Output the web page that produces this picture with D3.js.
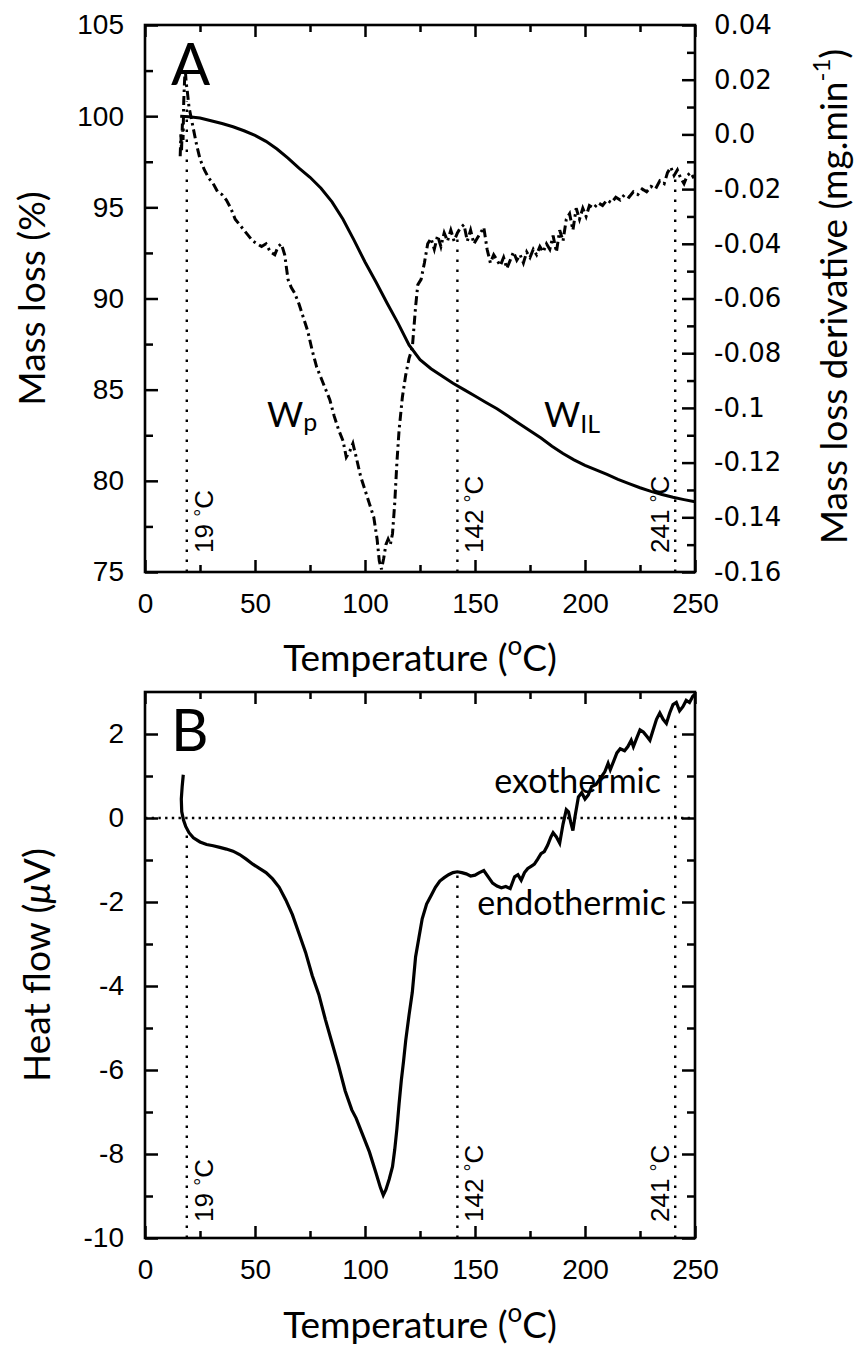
<!DOCTYPE html>
<html>
<head>
<meta charset="utf-8">
<script src="https://cdn.jsdelivr.net/npm/d3@7"></script>
<style>
  body { margin: 0; background: #fff; }
  svg { display: block; }
</style>
</head>
<body>
<svg id="chart" width="860" height="1348"></svg>
<script>
// ---------------- DATA ----------------
const xTicksMajor = [0, 50, 100, 150, 200, 250];
const xTicksMinor = [25, 75, 125, 175, 225];
const massTicks = [75, 80, 85, 90, 95, 100, 105];
const massTicksMinor = [77.5, 82.5, 87.5, 92.5, 97.5, 102.5];
const derivTicks = [-0.16, -0.14, -0.12, -0.1, -0.08, -0.06, -0.04, -0.02, 0, 0.02, 0.04];
const derivTickLabels = ["-0.16", "-0.14", "-0.12", "-0.1", "-0.08", "-0.06", "-0.04", "-0.02", "0.0", "0.02", "0.04"];
const derivTicksMinor = [-0.15, -0.13, -0.11, -0.09, -0.07, -0.05, -0.03, -0.01, 0.01, 0.03];
const heatTicks = [-10, -8, -6, -4, -2, 0, 2];
const heatTickLabels = ["-10", "-8", "-6", "-4", "-2", "0", "2"];
const heatTicksMinor = [-9, -7, -5, -3, -1, 1];

const markerTemps = [19, 142, 241];
const markerLabels = ["19", "142", "241"];
const markerDerivEnd = [0.012, -0.036, -0.015];
const markerHeatEnd = [-0.4, -1.3, 2.3];

// mass loss (%) vs temperature (°C)
const massT = [16, 20, 25, 30, 35, 40, 45, 50, 55, 60, 65, 70, 75, 80, 85, 90, 95, 100, 105, 110, 115, 120, 125, 130, 135, 140, 145, 150, 155, 160, 165, 170, 175, 180, 185, 190, 195, 200, 205, 210, 215, 220, 225, 230, 235, 240, 245, 250];
const massV = [100.0, 99.97, 99.9, 99.75, 99.6, 99.42, 99.2, 98.95, 98.62, 98.2, 97.7, 97.15, 96.65, 96.05, 95.3, 94.35, 93.2, 92.0, 90.9, 89.75, 88.65, 87.45, 86.65, 86.15, 85.75, 85.35, 85.0, 84.65, 84.3, 83.95, 83.55, 83.15, 82.75, 82.35, 81.9, 81.5, 81.15, 80.85, 80.6, 80.35, 80.08, 79.85, 79.62, 79.42, 79.25, 79.1, 78.97, 78.85];

// mass loss derivative (mg/min) vs temperature
const derivT = [16.0, 16.3, 16.6, 17.0, 17.3, 17.6, 18.0, 18.3, 18.7, 19.2, 20.0, 21.0, 22.0, 23.5, 25.0, 27.0, 29.0, 31.0, 33.0, 35.0, 37.0, 39.0, 41.0, 43.0, 45.0, 47.0, 49.0, 51.0, 53.0, 55.0, 57.0, 59.0, 60.5, 62.0, 63.5, 65.0, 66.5, 68.0, 70.0, 72.0, 74.0, 76.0, 78.0, 80.0, 82.0, 84.0, 86.0, 88.0, 90.0, 91.5, 93.0, 94.5, 96.0, 98.0, 100.0, 102.0, 104.0, 105.5, 106.5, 107.5, 108.5, 109.5, 110.5, 111.5, 112.5, 113.5, 114.5, 115.5, 117.0, 118.5, 120.0, 121.5, 123.0, 124.0, 125.5, 127.0, 128.5, 130.0, 131.5, 133.0, 134.5, 136.0, 137.5, 139.0, 140.5, 142.0, 143.5, 145.0, 146.5, 148.0, 149.5, 151.0, 152.5, 154.0, 155.5, 157.0, 158.5, 160.0, 161.5, 163.0, 164.5, 166.0, 167.5, 169.0, 170.5, 172.0, 173.5, 175.0, 176.5, 178.0, 179.5, 181.0, 182.5, 184.0, 185.5, 187.0, 188.5, 190.0, 191.5, 193.0, 194.5, 196.0, 197.5, 199.0, 200.5, 202.0, 204.0, 206.0, 208.0, 210.0, 212.0, 214.0, 216.0, 218.0, 220.0, 222.0, 224.0, 226.0, 228.0, 230.0, 232.0, 234.0, 236.0, 237.5, 239.0, 240.5, 242.0, 243.5, 245.0, 246.5, 248.0, 249.5];
const derivV = [-0.008, 0.000, -0.006, 0.004, -0.002, 0.012, 0.020, 0.024, 0.019, 0.016, 0.010, 0.006, 0.002, -0.004, -0.009, -0.013, -0.016, -0.018, -0.021, -0.022, -0.024, -0.027, -0.031, -0.033, -0.035, -0.037, -0.039, -0.040, -0.041, -0.040, -0.043, -0.044, -0.041, -0.040, -0.044, -0.053, -0.056, -0.058, -0.062, -0.067, -0.072, -0.079, -0.085, -0.089, -0.093, -0.097, -0.103, -0.108, -0.112, -0.118, -0.116, -0.113, -0.118, -0.125, -0.130, -0.135, -0.140, -0.148, -0.156, -0.159, -0.155, -0.150, -0.148, -0.150, -0.146, -0.135, -0.120, -0.108, -0.096, -0.088, -0.082, -0.078, -0.063, -0.055, -0.053, -0.047, -0.040, -0.038, -0.042, -0.037, -0.041, -0.036, -0.039, -0.035, -0.039, -0.036, -0.034, -0.033, -0.039, -0.035, -0.040, -0.038, -0.036, -0.034, -0.042, -0.047, -0.044, -0.046, -0.048, -0.045, -0.049, -0.046, -0.043, -0.046, -0.044, -0.047, -0.043, -0.045, -0.042, -0.044, -0.041, -0.043, -0.040, -0.042, -0.037, -0.043, -0.035, -0.039, -0.031, -0.029, -0.035, -0.027, -0.031, -0.027, -0.030, -0.026, -0.027, -0.025, -0.026, -0.024, -0.025, -0.023, -0.024, -0.022, -0.023, -0.021, -0.022, -0.020, -0.021, -0.019, -0.020, -0.017, -0.018, -0.014, -0.012, -0.015, -0.013, -0.016, -0.018, -0.015, -0.014, -0.016];

// heat flow (µV) vs temperature
const heatT = [17.4, 16.9, 16.5, 16.7, 17.5, 18.5, 20, 22, 25, 28, 31, 34, 37, 40, 43, 46, 49, 52, 55, 58, 61, 64, 67, 70, 73, 76, 79, 82, 85, 88, 91, 94, 96, 99, 102, 105, 107, 108.3, 109.5, 111, 112.5, 113.5, 114.5, 115.5, 116.5, 117.5, 118.5, 120, 121.5, 123, 124.5, 126, 128, 130, 132, 134, 136, 138, 140, 142, 144, 146, 148, 150, 152, 154, 156, 158, 160, 162, 164, 166, 168, 169.5, 171, 172.5, 174, 175.5, 177, 178.5, 180, 181.5, 183, 184.5, 185.5, 187, 188.5, 190, 191.5, 192.5, 193.5, 194.5, 195.5, 197, 198.5, 200, 201.5, 203, 205, 207, 209, 210.5, 211.5, 213, 214.5, 216, 218, 219.5, 221, 222, 223.5, 225, 226.5, 228, 229.5, 231, 232.5, 234, 235.5, 237, 238.5, 240, 241.5, 243, 244.5, 246, 247.5, 249, 250];
const heatV = [1.03, 0.75, 0.45, 0.15, -0.05, -0.2, -0.35, -0.47, -0.57, -0.63, -0.66, -0.7, -0.74, -0.79, -0.87, -0.98, -1.1, -1.2, -1.3, -1.45, -1.65, -1.95, -2.3, -2.75, -3.2, -3.75, -4.2, -4.8, -5.35, -5.9, -6.5, -6.95, -7.15, -7.55, -7.95, -8.45, -8.8, -8.98, -8.85, -8.6, -8.3, -7.9, -7.4, -6.8, -6.25, -5.8, -5.3, -4.7, -4.15, -3.3, -2.85, -2.4, -2.05, -1.85, -1.65, -1.5, -1.42, -1.35, -1.3, -1.28, -1.3, -1.33, -1.38, -1.36, -1.3, -1.25, -1.4, -1.55, -1.62, -1.66, -1.63, -1.68, -1.4, -1.35, -1.48, -1.3, -1.2, -1.15, -1.1, -0.98, -0.85, -0.8, -0.65, -0.45, -0.35, -0.45, -0.6, -0.15, 0.2, 0.15, -0.1, -0.3, 0.05, 0.5, 0.6, 0.45, 0.55, 0.75, 0.8, 0.95, 1.1, 1.3, 1.15, 1.35, 1.55, 1.65, 1.6, 1.7, 1.85, 1.7, 1.9, 2.1, 2.05, 1.95, 1.85, 2.1, 2.35, 2.5, 2.35, 2.25, 2.5, 2.7, 2.75, 2.55, 2.65, 2.8, 2.75, 2.9, 2.95];

// ---------------- LAYOUT ----------------
const svg = d3.select("#chart");
const L = 145, R = 695;
const topT = 25, topB = 572;
const botT = 692, botB = 1238;
const tickFont = "'Liberation Sans', Arial, sans-serif";
const titleFont = "Lato, 'Open Sans', sans-serif";

const x1 = d3.scaleLinear().domain([0, 250]).range([L, R]);
const yMass = d3.scaleLinear().domain([75, 105]).range([topB, topT]);
const yDeriv = d3.scaleLinear().domain([-0.16, 0.04]).range([topB, topT]);
const x2 = d3.scaleLinear().domain([0, 250]).range([L, R]);
const yHeat = d3.scaleLinear().domain([-10, 3]).range([botB, botT]);

function styleAxis(g, fontSize, family) {
  g.select(".domain").remove();
  g.selectAll(".tick line").attr("stroke", "#000").attr("stroke-width", 2.5);
  g.selectAll(".tick text").attr("fill", "#000").style("font-size", fontSize + "px").style("font-family", family);
}

function drawAxes(xs, ys, top, bottom, leftMaj, leftMin, leftFmt, rightAxis) {
  let g = svg.append("g").attr("transform", `translate(0,${bottom})`)
    .call(d3.axisBottom(xs).tickValues(xTicksMajor).tickSize(-12).tickSizeOuter(0).tickPadding(21).tickFormat(d3.format("d")));
  styleAxis(g, 28, tickFont);
  g = svg.append("g").attr("transform", `translate(0,${bottom})`)
    .call(d3.axisBottom(xs).tickValues(xTicksMinor).tickSize(-7).tickSizeOuter(0).tickFormat(""));
  styleAxis(g, 28, tickFont);
  g = svg.append("g").attr("transform", `translate(0,${top})`)
    .call(d3.axisTop(xs).tickValues(xTicksMajor).tickSize(-12).tickSizeOuter(0).tickFormat(""));
  styleAxis(g, 28, tickFont);
  g = svg.append("g").attr("transform", `translate(0,${top})`)
    .call(d3.axisTop(xs).tickValues(xTicksMinor).tickSize(-7).tickSizeOuter(0).tickFormat(""));
  styleAxis(g, 28, tickFont);
  g = svg.append("g").attr("transform", `translate(${L},0)`)
    .call(d3.axisLeft(ys).tickValues(leftMaj).tickSize(-13).tickSizeOuter(0).tickPadding(21).tickFormat(leftFmt));
  styleAxis(g, 28, tickFont);
  g = svg.append("g").attr("transform", `translate(${L},0)`)
    .call(d3.axisLeft(ys).tickValues(leftMin).tickSize(-8).tickSizeOuter(0).tickFormat(""));
  styleAxis(g, 28, tickFont);
  rightAxis();
  svg.append("rect").attr("x", L).attr("y", top).attr("width", R - L).attr("height", bottom - top)
    .attr("fill", "none").attr("stroke", "#000").attr("stroke-width", 2.6);
}

// ---------------- PANEL A ----------------
drawAxes(x1, yMass, topT, topB, massTicks, massTicksMinor, d3.format("d"), () => {
  let g = svg.append("g").attr("transform", `translate(${R},0)`)
    .call(d3.axisRight(yDeriv).tickValues(derivTicks).tickSize(-13).tickSizeOuter(0).tickPadding(19)
      .tickFormat((d, i) => derivTickLabels[i]));
  styleAxis(g, 26, "'DejaVu Sans', sans-serif");
  g = svg.append("g").attr("transform", `translate(${R},0)`)
    .call(d3.axisRight(yDeriv).tickValues(derivTicksMinor).tickSize(-8).tickSizeOuter(0).tickFormat(""));
  styleAxis(g, 26, "'DejaVu Sans', sans-serif");
});

markerTemps.forEach((t, i) => {
  svg.append("line").attr("x1", x1(t)).attr("x2", x1(t)).attr("y1", topB).attr("y2", yDeriv(markerDerivEnd[i]))
    .attr("stroke", "#000").attr("stroke-width", 2.4).attr("stroke-dasharray", "2.4,7.6").attr("stroke-linecap", "butt");
});

const massLine = d3.line().x((d, i) => x1(massT[i])).y((d) => yMass(d));
svg.append("path").attr("d", massLine(massV)).attr("fill", "none").attr("stroke", "#000").attr("stroke-width", 3);
const derivLine = d3.line().x((d, i) => x1(derivT[i])).y((d) => yDeriv(d));
svg.append("path").attr("d", derivLine(derivV)).attr("fill", "none").attr("stroke", "#000")
  .attr("stroke-width", 3).attr("stroke-dasharray", "9,4,2.5,4");

// ---------------- PANEL B ----------------
drawAxes(x2, yHeat, botT, botB, heatTicks, heatTicksMinor, (d, i) => heatTickLabels[i], () => {
  let g = svg.append("g").attr("transform", `translate(${R},0)`)
    .call(d3.axisRight(yHeat).tickValues(heatTicks).tickSize(-13).tickSizeOuter(0).tickFormat(""));
  styleAxis(g, 25, tickFont);
  g = svg.append("g").attr("transform", `translate(${R},0)`)
    .call(d3.axisRight(yHeat).tickValues(heatTicksMinor).tickSize(-8).tickSizeOuter(0).tickFormat(""));
  styleAxis(g, 25, tickFont);
});

svg.append("line").attr("x1", L).attr("x2", R).attr("y1", yHeat(0)).attr("y2", yHeat(0))
  .attr("stroke", "#000").attr("stroke-width", 2.4).attr("stroke-dasharray", "2.4,4.3");
markerTemps.forEach((t, i) => {
  svg.append("line").attr("x1", x2(t)).attr("x2", x2(t)).attr("y1", botB).attr("y2", yHeat(markerHeatEnd[i]))
    .attr("stroke", "#000").attr("stroke-width", 2.4).attr("stroke-dasharray", "2.4,7.6");
});
const heatLine = d3.line().x((d, i) => x2(heatT[i])).y((d) => yHeat(d));
svg.append("path").attr("d", heatLine(heatV)).attr("fill", "none").attr("stroke", "#000").attr("stroke-width", 3.2);

// ---------------- TEXT ----------------
function tempLabel(xpos, ybase, txt) {
  const t = svg.append("text").attr("transform", `translate(${xpos},${ybase}) rotate(-90)`)
    .style("font-family", tickFont).style("font-size", "26px").attr("fill", "#000");
  t.append("tspan").text(txt + " ");
  t.append("tspan").text("°").style("font-size", "20px").attr("dy", -4);
  t.append("tspan").text("C").attr("dy", 4);
}
const labelOffsets = [26, 26, -6];
markerTemps.forEach((t, i) => {
  tempLabel(x1(t) + labelOffsets[i], topB - 19, markerLabels[i]);
  tempLabel(x2(t) + labelOffsets[i], botB - 16, markerLabels[i]);
});

function xTitle(yb) {
  const t = svg.append("text").attr("x", (L + R) / 2).attr("y", yb).attr("text-anchor", "middle")
    .style("font-family", titleFont).style("font-size", "37px").attr("fill", "#000");
  t.append("tspan").text("Temperature (");
  t.append("tspan").text("o").style("font-size", "26px").attr("dy", -16);
  t.append("tspan").text("C)").attr("dy", 16);
}
xTitle(671);
xTitle(1338);

svg.append("text").attr("transform", `translate(45,${(topT + topB) / 2}) rotate(-90)`).attr("text-anchor", "middle")
  .style("font-family", titleFont).style("font-size", "37px").attr("fill", "#000").text("Mass loss (%)");

const ht = svg.append("text").attr("transform", `translate(50,${(botT + botB) / 2}) rotate(-90)`).attr("text-anchor", "middle")
  .style("font-family", titleFont).style("font-size", "37px").attr("fill", "#000");
ht.append("tspan").text("Heat flow (");
ht.append("tspan").text("μ").style("font-style", "italic");
ht.append("tspan").text("V)");

const rt = svg.append("text").attr("transform", `translate(847,${(topT + topB) / 2 - 2}) rotate(-90)`).attr("text-anchor", "middle")
  .style("font-family", titleFont).style("font-size", "37px").attr("fill", "#000");
rt.append("tspan").text("Mass loss derivative (mg.min");
rt.append("tspan").text("-1").style("font-size", "24px").attr("dy", -17);
rt.append("tspan").text(")").attr("dy", 17);

svg.append("text").attr("x", 171).attr("y", 85).style("font-family", titleFont).style("font-size", "58px").attr("fill", "#000").text("A");
svg.append("text").attr("x", 171).attr("y", 751).style("font-family", titleFont).style("font-size", "58px").attr("fill", "#000").text("B");

const wp = svg.append("text").attr("x", 267).attr("y", 427).style("font-family", titleFont).style("font-size", "35px").attr("fill", "#000");
wp.append("tspan").text("W");
wp.append("tspan").text("p").style("font-size", "25px").attr("dy", 4);
const wil = svg.append("text").attr("x", 544).attr("y", 427).style("font-family", titleFont).style("font-size", "35px").attr("fill", "#000");
wil.append("tspan").text("W");
wil.append("tspan").text("IL").style("font-size", "25px").attr("dy", 6);

svg.append("text").attr("x", 661).attr("y", 793).attr("text-anchor", "end")
  .style("font-family", titleFont).style("font-size", "34px").attr("fill", "#000").text("exothermic");
svg.append("text").attr("x", 666).attr("y", 915).attr("text-anchor", "end")
  .style("font-family", titleFont).style("font-size", "34px").attr("fill", "#000").text("endothermic");
</script>
</body>
</html>
